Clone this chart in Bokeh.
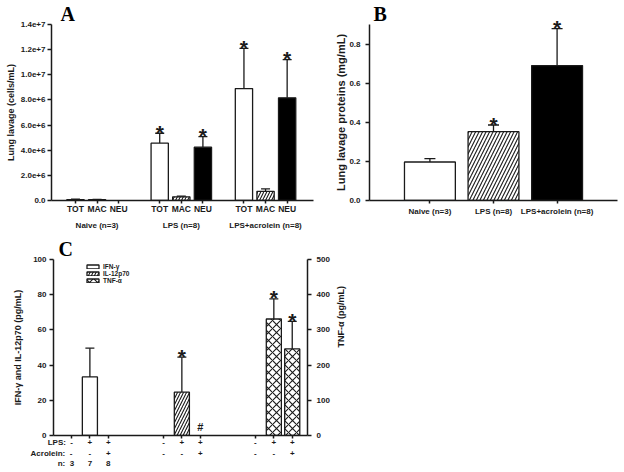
import math
from bokeh.plotting import figure
from bokeh.models import (Range1d, LinearAxis, FixedTicker, Whisker, TeeHead,
                          ColumnDataSource, Legend, LegendItem)
from bokeh.layouts import column, row
from bokeh.embed import file_html
from bokeh.resources import INLINE
from bokeh.core.properties import value

FONT = "Liberation Sans"
SERIF = "Liberation Serif"
INK = "#1a1a1a"
NB = "\u00a0"

# ---------------- Panel A data ----------------
a_groups = ["Naive (n=3)", "LPS (n=8)", "LPS+acrolein (n=8)"]
a_cells = ["TOT", "MAC", "NEU"]
a_tot = [0.07e6, 4.56e6, 8.90e6]
a_tot_sem = [0.03e6, 0.79e6, 3.20e6]
a_mac = [0.06e6, 0.29e6, 0.73e6]
a_mac_sem = [0.03e6, 0.05e6, 0.19e6]
a_neu = [0.0, 4.24e6, 8.17e6]
a_neu_sem = [0.0, 0.84e6, 3.03e6]
a_tot_mark = ["", "*", "*"]
a_mac_mark = ["", "", ""]
a_neu_mark = ["", "*", "*"]
a_yticks = [0, 2e6, 4e6, 6e6, 8e6, 1e7, 1.2e7, 1.4e7]
a_ytick_labels = ["0.0", "2.0e+6", "4.0e+6", "6.0e+6", "8.0e+6", "1.0e+7", "1.2e+7", "1.4e+7"]

# ---------------- Panel B data ----------------
b_groups = ["Naive (n=3)", "LPS (n=8)", "LPS+acrolein (n=8)"]
b_mean = [0.197, 0.352, 0.690]
b_sem = [0.017, 0.034, 0.189]
b_mark = ["", "*", "*"]
b_yticks = [0.0, 0.2, 0.4, 0.6, 0.8]
b_ytick_labels = ["0.0", "0.2", "0.4", "0.6", "0.8"]

# ---------------- Panel C data ----------------
c_cytokines = ["IFN-γ", "IL-12p70", "TNF-α"]
c_row_titles = ["LPS:", "Acrolein:", "n:"]
c_lps = ["-", "+", "+"]
c_acrolein = ["-", "-", "+"]
c_n = ["3", "7", "8"]
c_ifn = [0.0, 33.3, 0.0]
c_ifn_sem = [0.0, 16.3, 0.0]
c_ifn_mark = ["", "", ""]
c_il12 = [0.0, 24.6, 0.0]
c_il12_sem = [0.0, 19.9, 0.0]
c_il12_mark = ["", "*", "#"]
c_tnf = [0.0, 331.0, 246.0]
c_tnf_sem = [0.0, 57.0, 78.0]
c_tnf_mark = ["", "*", "*"]
c_left_ticks = [0, 20, 40, 60, 80, 100]
c_right_ticks = [0, 100, 200, 300, 400, 500]
c_right_label = "TNF-α (pg/mL)"


def style_axis(ax, label_size="9px", tick_size="8px", tick_out=4, lab_standoff=2, ax_standoff=5):
    ax.axis_line_color = INK
    ax.axis_line_width = 1.5
    ax.major_tick_line_color = INK
    ax.major_tick_line_width = 1.5
    ax.major_tick_out = tick_out
    ax.major_tick_in = 0
    ax.minor_tick_line_color = None
    ax.major_label_text_font = FONT
    ax.major_label_text_font_style = "bold"
    ax.major_label_text_font_size = tick_size
    ax.major_label_text_color = INK
    ax.major_label_standoff = lab_standoff
    ax.axis_label_text_font = FONT
    ax.axis_label_text_font_style = "bold"
    ax.axis_label_text_font_size = label_size
    ax.axis_label_text_color = INK
    ax.axis_label_standoff = ax_standoff


def text_axis(p, ticks, labels, standoff, size="8px", side="below", y_range_name=None,
              orientation=None):
    kw = {}
    if y_range_name:
        kw["y_range_name"] = y_range_name
    ax = LinearAxis(ticker=FixedTicker(ticks=ticks),
                    major_label_overrides=dict(zip(ticks, labels)), **kw)
    ax.axis_line_color = None
    ax.major_tick_line_color = None
    ax.major_tick_out = 0
    ax.major_tick_in = 0
    ax.minor_tick_line_color = None
    ax.major_label_standoff = standoff
    ax.major_label_text_font = FONT
    ax.major_label_text_font_style = "bold"
    ax.major_label_text_font_size = size
    ax.major_label_text_color = INK
    if orientation is not None:
        ax.major_label_orientation = orientation
    p.add_layout(ax, side)
    return ax


def base_fig(width, height, xr, yr, bl, br, bt, bb):
    p = figure(width=width, height=height, x_range=xr, y_range=yr,
               output_backend="svg", toolbar_location=None,
               min_border_left=bl, min_border_right=br, min_border_top=bt, min_border_bottom=bb)
    p.grid.visible = False
    p.outline_line_color = None
    p.background_fill_color = "white"
    p.border_fill_color = "white"
    return p


def letter(p, txt, offset):
    p.title.text = txt
    p.title.text_font = SERIF
    p.title.text_font_style = "bold"
    p.title.text_font_size = "20px"
    p.title.text_color = "black"
    p.title.align = "left"
    p.title.offset = offset
    p.title.standoff = 0


def add_bars(p, xs, tops, sems, marks, fill, hatch=None, width=0.8, cap=9,
             yname="default", hscale=7, star_size="21px"):
    keep = [i for i, t in enumerate(tops) if t > 0]
    src = ColumnDataSource(dict(x=[xs[i] for i in keep],
                                top=[tops[i] for i in keep],
                                up=[tops[i] + sems[i] for i in keep]))
    kw = dict(x="x", top="top", bottom=0, width=width, source=src,
              fill_color=fill, line_color=INK, line_width=1.3, y_range_name=yname)
    if hatch:
        kw.update(hatch_pattern=hatch, hatch_color=INK, hatch_scale=hscale, hatch_weight=1.1)
    r = p.vbar(**kw)
    w = Whisker(source=src, base="x", lower="top", upper="up", dimension="height",
                line_color=INK, line_width=1.3,
                upper_head=TeeHead(size=cap, line_color=INK, line_width=1.3),
                lower_head=None, y_range_name=yname)
    p.add_layout(w)
    st = [i for i, m in enumerate(marks) if m == "*"]
    if st:
        ssrc = ColumnDataSource(dict(x=[xs[i] for i in st],
                                     y=[tops[i] + sems[i] for i in st],
                                     t=["*" for i in st]))
        p.text(x="x", y="y", text="t", source=ssrc, text_align="center",
               text_baseline="alphabetic", y_offset=-1, level="overlay",
               text_font=value(FONT), text_font_style="bold",
               text_font_size=star_size, text_color=INK, y_range_name=yname)
    hs = [i for i, m in enumerate(marks) if m == "#"]
    if hs:
        hsrc = ColumnDataSource(dict(x=[xs[i] for i in hs],
                                     y=[tops[i] for i in hs],
                                     t=["#" for i in hs]))
        p.text(x="x", y="y", text="t", source=hsrc, text_align="center",
               text_baseline="alphabetic", y_offset=-9, level="overlay",
               text_font=value(FONT), text_font_style="bold",
               text_font_size="11px", text_color=INK, y_range_name=yname)
    return r


# ================= Panel A =================
GA = 3.9
a_x = {c: [g * GA + k for g in range(3)] for k, c in enumerate(a_cells)}
pA = base_fig(318, 232, Range1d(-1.11, 11.02), Range1d(0, 1.4e7), 51, 5, 24, 31)
add_bars(pA, a_x["TOT"], a_tot, a_tot_sem, a_tot_mark, "white")
add_bars(pA, a_x["MAC"], a_mac, a_mac_sem, a_mac_mark, "white", hatch="/", hscale=6)
add_bars(pA, a_x["NEU"], a_neu, a_neu_sem, a_neu_mark, "black")

xa = pA.xaxis[0]
a_ticks = [g * GA + k for g in range(3) for k in range(3)]
xa.ticker = FixedTicker(ticks=a_ticks)
xa.major_label_overrides = {g * GA + k: c for g in range(3) for k, c in enumerate(a_cells)}
style_axis(xa, tick_out=3, lab_standoff=0, tick_size="8.5px")
text_axis(pA, [g * GA + 1 for g in range(3)], a_groups, 4)
ya = pA.yaxis[0]
ya.ticker = FixedTicker(ticks=a_yticks)
ya.major_label_overrides = dict(zip(a_yticks, a_ytick_labels))
ya.axis_label = "Lung lavage (cells/mL)"
style_axis(ya, tick_out=4, lab_standoff=2, ax_standoff=2)
letter(pA, "A", 9)

# ================= Panel B =================
b_x = list(range(len(b_groups)))
pB = base_fig(306, 232, Range1d(-0.95, 2.95), Range1d(0, 0.9), 51, 7, 24, 31)
add_bars(pB, [b_x[0]], [b_mean[0]], [b_sem[0]], [b_mark[0]], "white", cap=11)
add_bars(pB, [b_x[1]], [b_mean[1]], [b_sem[1]], [b_mark[1]], "white", hatch="/", hscale=7, cap=11)
add_bars(pB, [b_x[2]], [b_mean[2]], [b_sem[2]], [b_mark[2]], "black", cap=11)
xb = pB.xaxis[0]
xb.ticker = FixedTicker(ticks=b_x)
xb.major_label_overrides = dict(zip(b_x, b_groups))
style_axis(xb, tick_out=3, lab_standoff=3)
yb = pB.yaxis[0]
yb.ticker = FixedTicker(ticks=b_yticks)
yb.major_label_overrides = dict(zip(b_yticks, b_ytick_labels))
yb.axis_label = "Lung lavage proteins (mg/mL)"
style_axis(yb, label_size="11px", tick_out=4, lab_standoff=5, ax_standoff=-1)
letter(pB, "B", 4)

# ================= Panel C =================
GC = 5
c_slots = [[g * GC + k for k in range(3)] for g in range(3)]
all_slots = [s for g in c_slots for s in g]
pC = base_fig(360, 238, Range1d(-0.978, 12.83), Range1d(0, 100), 53, 53, 27, 35)
pC.extra_y_ranges = {"tnf": Range1d(0, 500)}
r_ifn = add_bars(pC, c_slots[0], c_ifn, c_ifn_sem, c_ifn_mark, "white", width=0.82, cap=9)
r_il12 = add_bars(pC, c_slots[1], c_il12, c_il12_sem, c_il12_mark, "white", hatch="/",
                  width=0.82, cap=9, hscale=6)
r_tnf = add_bars(pC, c_slots[2], c_tnf, c_tnf_sem, c_tnf_mark, "white", hatch="x",
                 width=0.82, cap=9, yname="tnf", hscale=8)


def row_labels(title, marks, gap_nb, pad_nb):
    labs = list(marks) * 3
    labs[0] = title + NB * gap_nb + labs[0] + NB * pad_nb
    return labs


lps_labels = row_labels(c_row_titles[0], c_lps, 2, 10)
acr_labels = row_labels(c_row_titles[1], c_acrolein, 2, 18)
n_labels = list(c_n)
n_labels[0] = c_row_titles[2] + NB * 2 + n_labels[0] + NB * 5

xc = pC.xaxis[0]
xc.ticker = FixedTicker(ticks=all_slots)
xc.major_label_overrides = dict(zip(all_slots, lps_labels))
style_axis(xc, tick_out=3, lab_standoff=-1, tick_size="8px")
text_axis(pC, all_slots, acr_labels, -1, size="8px")
text_axis(pC, c_slots[0], n_labels, -2, size="8px")

yc = pC.yaxis[0]
yc.ticker = FixedTicker(ticks=c_left_ticks)
yc.axis_label = "IFN-γ and IL-12p70 (pg/mL)"
style_axis(yc, tick_out=4, lab_standoff=3, ax_standoff=7)
rax = LinearAxis(y_range_name="tnf", ticker=FixedTicker(ticks=c_right_ticks))
style_axis(rax, tick_out=4, lab_standoff=5)
pC.add_layout(rax, "right")
text_axis(pC, [c_right_ticks[-1] / 2], [c_right_label], 8, size="9px", side="right",
          y_range_name="tnf", orientation=math.pi / 2)

legend = Legend(items=[LegendItem(label=c_cytokines[0], renderers=[r_ifn]),
                       LegendItem(label=c_cytokines[1], renderers=[r_il12]),
                       LegendItem(label=c_cytokines[2], renderers=[r_tnf])],
                location=(32, 151), glyph_width=15, glyph_height=5, label_height=6,
                label_width=30, spacing=0, padding=0, margin=0, label_standoff=3,
                label_text_font=FONT, label_text_font_style="bold",
                label_text_font_size="6.5px", label_text_color=INK,
                border_line_color=None, background_fill_alpha=0)
pC.add_layout(legend, "center")
letter(pC, "C", 5)

layout = column(row(pA, pB), pC)
open("out.html", "w").write(file_html(layout, INLINE))
